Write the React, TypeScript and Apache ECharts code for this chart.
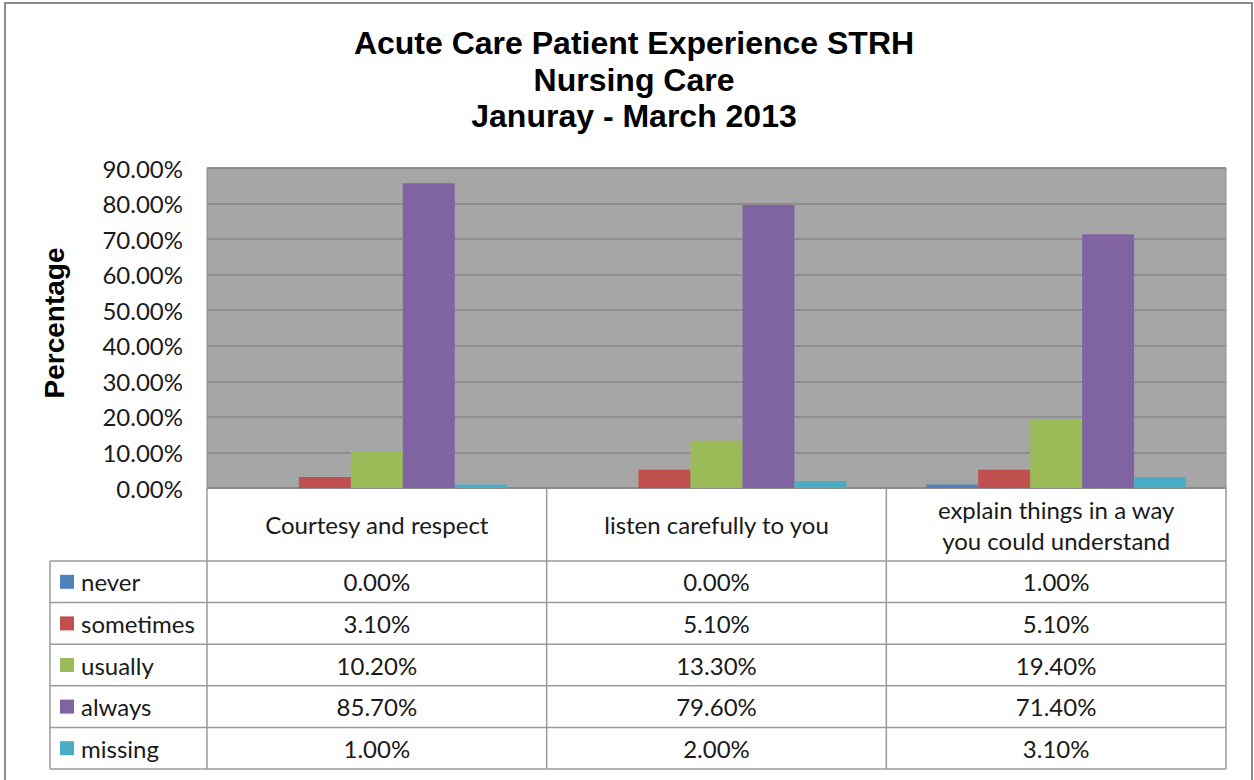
import React, { useEffect, useRef } from "react";
import * as echarts from "echarts";

const titleLines = ["Acute Care Patient Experience STRH", "Nursing Care", "Januray - March 2013"];
const categories = ["Courtesy and respect", "listen carefully to you", "explain things in a way\nyou could understand"];
const seriesNames = ["never", "sometimes", "usually", "always", "missing"];
const seriesColors = ["#4F81BD", "#C0504D", "#9BBB59", "#8064A2", "#4BACC6"];
const never = [0.0, 0.0, 1.0];
const sometimes = [3.1, 5.1, 5.1];
const usually = [10.2, 13.3, 19.4];
const always = [85.7, 79.6, 71.4];
const missing = [1.0, 2.0, 3.1];
const seriesValues = [never, sometimes, usually, always, missing];
const yAxisName = "Percentage";

const TABLE_FONT = "Lato, 'Open Sans', sans-serif";
const BOLD_FONT = "'Liberation Sans', Arial, sans-serif";

export default function App() {
  const ref = useRef<HTMLDivElement>(null);
  useEffect(() => {
    if (!ref.current) return;
    const chart = echarts.init(ref.current, null, { renderer: "svg" });

    const gl = 207, gr = 1226, gt = 168, gb = 488;
    const tableLeft = 50;
    const headerBottom = 561;
    const rowH = 41.6;
    const colW = (gr - gl) / categories.length;
    const lineColor = "#9a9a9a";
    const fs = 24;

    const graphics: any[] = [];
    graphics.push({ type: "rect", shape: { x: 5, y: 3, width: 1247, height: 790 }, style: { fill: "none", stroke: "#8c8c8c", lineWidth: 2 }, silent: true });
    for (let i = 0; i <= categories.length; i++) {
      const x = gl + colW * i;
      graphics.push({ type: "line", shape: { x1: x, y1: gb, x2: x, y2: headerBottom + rowH * seriesNames.length }, style: { stroke: lineColor, lineWidth: 1.5 }, silent: true });
    }
    graphics.push({ type: "line", shape: { x1: tableLeft, y1: headerBottom, x2: tableLeft, y2: headerBottom + rowH * seriesNames.length }, style: { stroke: lineColor, lineWidth: 1.5 }, silent: true });
    for (let r = 0; r <= seriesNames.length; r++) {
      const y = headerBottom + rowH * r;
      graphics.push({ type: "line", shape: { x1: tableLeft, y1: y, x2: gr, y2: y }, style: { stroke: lineColor, lineWidth: 1.5 }, silent: true });
    }
    categories.forEach((c, i) => {
      graphics.push({
        type: "text",
        x: gl + colW * (i + 0.5),
        y: (gb + headerBottom) / 2,
        style: { text: c, fill: "#1a1a1a", font: `${fs}px ${TABLE_FONT}`, align: "center", verticalAlign: "middle", lineHeight: 31 },
        silent: true,
      });
    });
    seriesNames.forEach((name, r) => {
      const cy = headerBottom + rowH * (r + 0.5);
      graphics.push({ type: "rect", shape: { x: 60, y: cy - 7, width: 14, height: 14 }, style: { fill: seriesColors[r] }, silent: true });
      graphics.push({ type: "text", x: 81, y: cy, style: { text: name, fill: "#1a1a1a", font: `${fs}px ${TABLE_FONT}`, align: "left", verticalAlign: "middle" }, silent: true });
      seriesValues[r].forEach((v, i) => {
        graphics.push({
          type: "text",
          x: gl + colW * (i + 0.5),
          y: cy,
          style: { text: v.toFixed(2) + "%", fill: "#1a1a1a", font: `${fs}px ${TABLE_FONT}`, align: "center", verticalAlign: "middle" },
          silent: true,
        });
      });
    });
    graphics.push({
      type: "text",
      x: 54,
      y: 323,
      rotation: Math.PI / 2,
      style: { text: yAxisName, fill: "#000", font: `bold 28px ${BOLD_FONT}`, align: "center", verticalAlign: "middle" },
      silent: true,
    });

    chart.setOption({
      animation: false,
      backgroundColor: "#ffffff",
      title: {
        text: titleLines.join("\n"),
        left: 629,
        top: 20,
        textAlign: "center",
        textStyle: { fontFamily: BOLD_FONT, fontWeight: "bold", fontSize: 32, lineHeight: 36.5, color: "#000" },
      },
      grid: { left: gl, right: 1254 - gr, top: gt, bottom: 780 - gb, show: true, backgroundColor: "#A6A6A6", borderColor: "#8c8c8c", borderWidth: 1 },
      xAxis: {
        type: "category",
        data: categories,
        axisLabel: { show: false },
        axisTick: { show: false },
        axisLine: { show: true, lineStyle: { color: "#8c8c8c", width: 1 } },
      },
      yAxis: {
        type: "value",
        min: 0,
        max: 90,
        interval: 10,
        axisLabel: { formatter: (v: number) => v.toFixed(2) + "%", fontFamily: TABLE_FONT, fontSize: fs, color: "#1a1a1a", margin: 24 },
        axisLine: { show: false },
        axisTick: { show: false },
        splitLine: { lineStyle: { color: "#868686", width: 1.5 } },
      },
      series: seriesNames.map((n, i) => ({
        name: n,
        type: "bar",
        data: seriesValues[i],
        itemStyle: { color: seriesColors[i] },
        barGap: "0%",
        barCategoryGap: "23.5%",
      })),
      graphic: graphics,
    });
    return () => chart.dispose();
  }, []);
  return <div ref={ref} style={{ position: "fixed", left: 0, top: 0, width: 1254, height: 780 }} />;
}
